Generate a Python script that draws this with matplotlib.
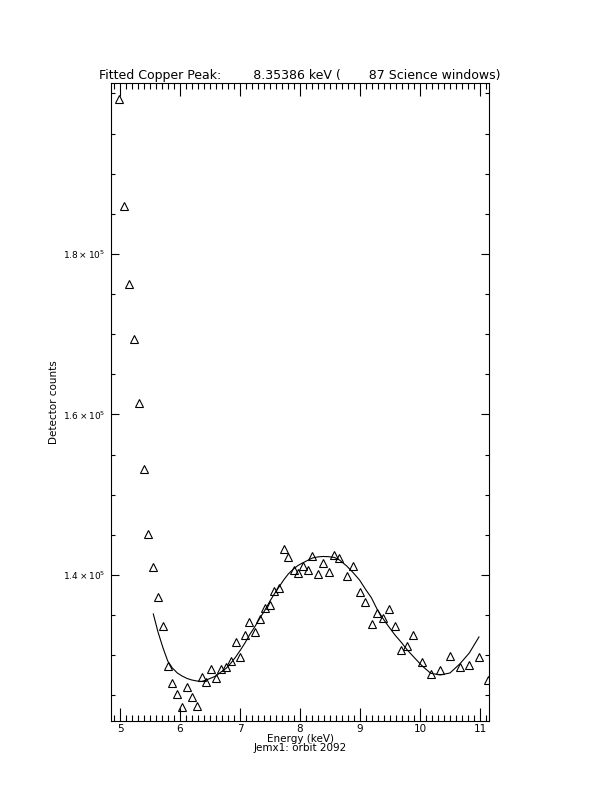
import numpy as np
import matplotlib
matplotlib.use('Agg')
import matplotlib.pyplot as plt
from matplotlib.ticker import FixedLocator, MultipleLocator

# measured spectrum (energy in keV, detector counts)
energy = [4.988, 5.072, 5.155, 5.238, 5.312, 5.395, 5.472, 5.555, 5.633, 5.717,
          5.795, 5.872, 5.955, 6.033, 6.117, 6.195, 6.278, 6.362, 6.438, 6.522,
          6.600, 6.683, 6.767, 6.850, 6.928, 7.008, 7.083, 7.158, 7.245, 7.333,
          7.417, 7.500, 7.572, 7.650, 7.728, 7.805, 7.892, 7.967, 8.042, 8.125,
          8.208, 8.292, 8.383, 8.475, 8.575, 8.658, 8.778, 8.883, 8.992, 9.083,
          9.192, 9.283, 9.388, 9.483, 9.583, 9.683, 9.788, 9.888, 10.028, 10.178,
          10.338, 10.500, 10.663, 10.822, 10.983, 11.138]
counts = [199310, 185977, 176259, 169443, 161469, 153245, 145109, 141034, 137259, 133645,
          128699, 126581, 125210, 123590, 126007, 124836, 123677, 127253, 126705, 128325,
          127129, 128288, 128574, 129322, 131589, 129783, 132524, 134144, 132935, 134518,
          135851, 136262, 138044, 138380, 143177, 142243, 140623, 140187, 141059, 140623,
          142367, 140087, 141495, 140411, 142430, 142056, 139813, 141121, 137919, 136673,
          133895, 135228, 134642, 135764, 133645, 130593, 131091, 132524, 129097, 127665,
          128163, 129845, 128574, 128786, 129783, 126917]

# fitted curve, read at the data energies (points 8..65)
fit_energy = energy[7:65]
fit_counts = [135141, 132898, 130904, 129284, 128412, 127789, 127415, 127104, 126917, 126792,
              126730, 126917, 127166, 127415, 127914, 128350, 129035, 129783, 130655, 131527,
              132524, 133521, 134642, 135639, 136760, 137633, 138505, 139377, 140125, 140748,
              141184, 141495, 141807, 142118, 142243, 142305, 142280, 142181, 141869, 141121,
              140312, 139377, 138318, 137134, 135764, 134518, 133521, 132524, 131652, 130655,
              129845, 128724, 127752, 127540, 127789, 128911, 130281, 132275]

peak_kev = 8.35386
n_windows = 87
y_major = [1.4e5, 1.6e5, 1.8e5]
y_labels = [r'$1.4\times10^5$', r'$1.6\times10^5$', r'$1.8\times10^5$']

fig = plt.figure(figsize=(6.12, 7.92), dpi=100)
ax = fig.add_axes([0.1814, 0.0896, 0.6176, 0.8056])

ax.plot(energy, counts, linestyle='none', marker='^', ms=5.5, mfc='none', mec='k', mew=0.8)
ax.plot(fit_energy, fit_counts, color='k', lw=0.8)

ax.set_xlim(4.85, 11.15)
ax.set_ylim(121800, 201300)

ax.xaxis.set_major_locator(MultipleLocator(1))
ax.xaxis.set_minor_locator(MultipleLocator(0.1))
ax.yaxis.set_major_locator(FixedLocator(y_major))
ax.yaxis.set_minor_locator(MultipleLocator(5000))
ax.set_yticklabels(y_labels)

ax.tick_params(which='both', direction='in', top=True, right=True, width=0.8)
ax.tick_params(axis='x', which='major', length=9.2, pad=2, labelsize=7.5)
ax.tick_params(axis='x', which='minor', length=4.6)
ax.tick_params(axis='y', which='major', length=5.5, pad=4, labelsize=6.5)
ax.tick_params(axis='y', which='minor', length=2.8)
for s in ax.spines.values():
    s.set_linewidth(0.8)

ax.set_title(f'Fitted Copper Peak:        {peak_kev:.5f} keV (       {n_windows} Science windows)',
             fontsize=9, pad=3)
ax.set_ylabel('Detector counts', fontsize=7.5, labelpad=3)
ax.set_xlabel('Energy (keV)\nJemx1: orbit 2092', fontsize=7.5, labelpad=0, linespacing=0.95)

fig.savefig('out.png', dpi=100)
